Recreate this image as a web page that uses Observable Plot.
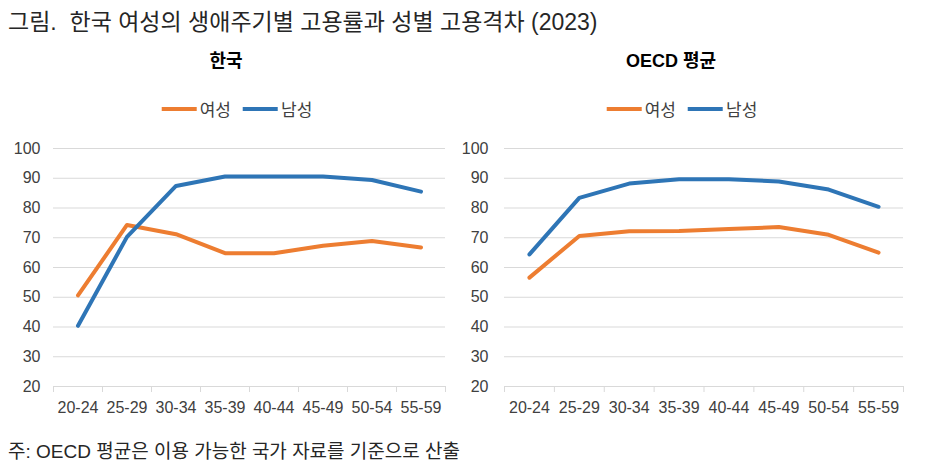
<!DOCTYPE html>
<html><head><meta charset="utf-8">
<script src="https://cdn.jsdelivr.net/npm/d3@7"></script>
<script src="https://cdn.jsdelivr.net/npm/@observablehq/plot@0.6"></script>
<style>
body{margin:0;background:#fff;font-family:"Liberation Sans","Noto Sans CJK KR",sans-serif;color:#262626;}
#wrap{position:relative;width:931px;height:473px;overflow:hidden;background:#fff}
.abs{position:absolute;white-space:pre}
.title{left:8px;top:3px;font-size:23px;color:#262626}
.sub{top:46px;font-size:18px;font-weight:bold;transform:translateX(-50%);color:#000}
.legend{top:96px;font-size:17px;display:flex;align-items:center;transform:translateX(-50%);color:#404040}
.legend .sw{display:inline-block;width:35px;height:4px;margin-right:3px}
.legend .it{display:flex;align-items:center;margin-right:12px}
.legend .it:last-child{margin-right:0}
.caption{left:8px;top:436px;font-size:19px;color:#262626}
</style></head><body><div id="wrap"></div>
<script>
const ages = ["20-24","25-29","30-34","35-39","40-44","45-49","50-54","55-59"];
const koreaWomen = [50.6,74.3,71.2,64.8,64.8,67.3,68.9,66.7];
const koreaMen   = [40.4,70.3,87.4,90.6,90.6,90.6,89.4,85.5];
const oecdWomen  = [56.6,70.6,72.2,72.3,72.9,73.6,71.0,65.0];
const oecdMen    = [64.4,83.4,88.2,89.7,89.7,88.9,86.2,80.4];
const yTicks = [20,30,40,50,60,70,80,90,100];
const sexes = ["여성","남성"];
const colors = ["#ED7D31","#2E75B6"];
const titleText = "그림.  한국 여성의 생애주기별 고용률과 성별 고용격차 (2023)";
const panelTitles = ["한국","OECD 평균"];
const captionText = "주: OECD 평균은 이용 가능한 국가 자료를 기준으로 산출";

const wrap = document.getElementById("wrap");
function addDiv(cls, text, style){
  const d = document.createElement("div");
  d.className = "abs " + cls;
  if (text != null) d.textContent = text;
  Object.assign(d.style, style || {});
  wrap.appendChild(d);
  return d;
}
addDiv("title", titleText);
addDiv("caption", captionText);

function panel(women, men, cfg){
  const rows = [];
  ages.forEach((a,i)=>{ rows.push({i, age:a, sex:sexes[0], v:women[i]}); });
  ages.forEach((a,i)=>{ rows.push({i, age:a, sex:sexes[1], v:men[i]}); });
  const bounds = d3.range(-0.5, ages.length, 1);
  const chart = Plot.plot({
    width: cfg.width, height: 290,
    marginTop: 13, marginBottom: 39, marginLeft: cfg.ml, marginRight: cfg.mr,
    style: {fontFamily: '"Liberation Sans","Noto Sans CJK KR",sans-serif', fontSize: "16px", color: "#404040", background: "transparent"},
    x: {type: "linear", domain: [-0.5, ages.length - 0.5], axis: null},
    y: {domain: [20, 100], axis: null},
    color: {domain: sexes, range: colors},
    marks: [
      Plot.gridY(yTicks.slice(1), {stroke: "#d9d9d9", strokeOpacity: 1, strokeWidth: 1}),
      Plot.ruleY([20], {stroke: "#d9d9d9", strokeWidth: 1.2}),
      Plot.axisX(bounds, {tickSize: 6, tickFormat: () => "", stroke: "#d9d9d9", label: null}),
      Plot.axisX(d3.range(ages.length), {tickSize: 0, tickPadding: 15, tickFormat: i => ages[i], fontSize: 16, label: null}),
      Plot.axisY(yTicks, {tickSize: 0, tickPadding: cfg.tp, fontSize: 16, label: null}),
      Plot.line(rows, {x: "i", y: "v", z: "sex", stroke: "sex", strokeWidth: 4, strokeLinejoin: "round", strokeLinecap: "round"})
    ]
  });
  chart.style.position = "absolute";
  chart.style.left = cfg.left + "px";
  chart.style.top = "135px";
  wrap.appendChild(chart);
  addDiv("sub", cfg.title, {left: cfg.subCenter + "px"});
  const lg = addDiv("legend", null, {left: cfg.center + "px"});
  sexes.forEach((s, k) => {
    const it = document.createElement("span");
    it.className = "it";
    const sw = document.createElement("span");
    sw.className = "sw";
    sw.style.background = colors[k];
    it.appendChild(sw);
    it.appendChild(document.createTextNode(s));
    lg.appendChild(it);
  });
}
panel(koreaWomen, koreaMen, {left: 0, width: 460, ml: 53, mr: 15, tp: 13, center: 237, subCenter: 226, title: panelTitles[0]});
panel(oecdWomen, oecdMen, {left: 460, width: 471, ml: 44, mr: 28, tp: 16, center: 682, subCenter: 671, title: panelTitles[1]});
</script></body></html>
